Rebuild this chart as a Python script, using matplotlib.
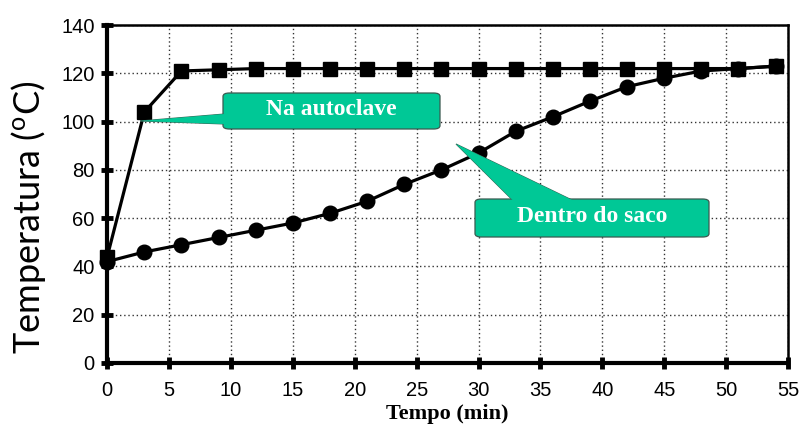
import numpy as np
import matplotlib
matplotlib.use("Agg")
import matplotlib.pyplot as plt
from matplotlib.patches import FancyBboxPatch, Polygon

# time (min) and temperatures (C)
tempo = [0, 3, 6, 9, 12, 15, 18, 21, 24, 27, 30, 33, 36, 39, 42, 45, 48, 51, 54]
autoclave = [44, 104, 121, 121.5, 122, 122, 122, 122, 122, 122, 122, 122, 122, 122, 122, 122, 122, 122, 123]
saco = [42, 46, 49, 52, 55, 58, 62, 67, 74, 80, 87, 96, 102, 108.5, 114.5, 118, 121, 122, 123]

x_ticks = list(range(0, 56, 5))
y_ticks = list(range(0, 141, 20))

green = "#00c896"

fig = plt.figure(figsize=(8, 4.26), dpi=100)
ax = fig.add_axes([0.134, 0.148, 0.851, 0.793])

ax.plot(tempo, autoclave, color="black", lw=2.3, marker="s", ms=10.5, zorder=4, clip_on=False)
ax.plot(tempo, saco, color="black", lw=2.3, marker="o", ms=10.5, zorder=4, clip_on=False)

ax.set_xlim(0, 55)
ax.set_ylim(0, 140)
ax.set_xticks(x_ticks)
ax.set_yticks(y_ticks)
ax.grid(True, color="#333333", ls=(0, (1, 2)), lw=1.0)
ax.set_axisbelow(True)

for s in ["left", "bottom"]:
    ax.spines[s].set_linewidth(3.0)
for s in ["top", "right"]:
    ax.spines[s].set_linewidth(1.8)
ax.tick_params(direction="inout", length=8, width=3.5, labelsize=14.5)
ax.tick_params(axis="x", pad=9)
ax.tick_params(axis="y", pad=5)
for lab in ax.get_xticklabels() + ax.get_yticklabels():
    lab.set_fontfamily("Liberation Sans")

ax.set_xlabel("Tempo (min)", fontfamily="Liberation Serif", fontweight="bold",
              fontsize=16, labelpad=3)
fig.text(0.035, 0.49, r"Temperatura ($^{\mathregular{o}}$C)", rotation=90,
         ha="center", va="center", fontsize=26, fontfamily="Lato")

# callout boxes drawn in pixel coordinates of the figure
H = 426.0


def px(x, y):
    return (x / 800.0, 1 - y / H)


def callout(x0, y0, x1, y1, tail, text):
    (fx0, fy1) = px(x0, y1)
    (fx1, fy0) = px(x1, y0)
    poly = Polygon([px(*p) for p in tail], closed=True, transform=fig.transFigure,
                   facecolor=green, edgecolor="#3a6a5a", lw=0.8, zorder=5)
    fig.add_artist(poly)
    box = FancyBboxPatch((fx0, fy1), fx1 - fx0, fy0 - fy1,
                         boxstyle="round,pad=0,rounding_size=0.008",
                         transform=fig.transFigure, facecolor=green,
                         edgecolor="#3a5a50", lw=0.9, zorder=6)
    fig.add_artist(box)
    fig.add_artist(Polygon([px(*p) for p in tail], closed=True, transform=fig.transFigure,
                           facecolor=green, edgecolor="none", zorder=7))
    fig.text((fx0 + fx1) / 2, (fy0 + fy1) / 2 + 0.004, text, ha="center", va="center",
             color="white", fontfamily="Liberation Serif", fontweight="bold",
             fontsize=17, zorder=8)


callout(223, 93, 440, 129, [(224.5, 114), (140, 121), (224.5, 124)], "Na autoclave")
callout(475, 199, 709, 237, [(513, 200.5), (456, 144), (573, 200.5)], "Dentro do saco")

fig.savefig("out.png", dpi=100)
